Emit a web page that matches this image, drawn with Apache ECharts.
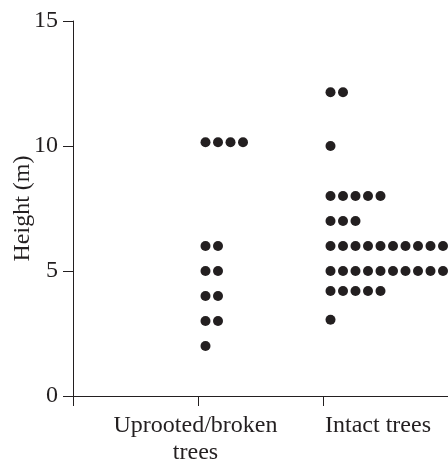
<!DOCTYPE html>
<html><head><meta charset="utf-8">
<script src="https://cdn.jsdelivr.net/npm/echarts@6/dist/echarts.min.js"></script>
<style>html,body{margin:0;padding:0;background:#fff}#c{width:448px;height:462px}</style>
</head><body><div id="c"></div>
<script>
const categories = ['Uprooted/broken\ntrees', 'Intact trees'];
const uprootedHeights = [10.15,10.15,10.15,10.15, 6,6, 5,5, 4,4, 3,3, 2];
const intactHeights = [12.15,12.15, 10, 8,8,8,8,8, 7,7,7,
  6,6,6,6,6,6,6,6,6,6,
  5,5,5,5,5,5,5,5,5,5,
  4.2,4.2,4.2,4.2,4.2, 3.05];
const yTicks = [0, 5, 10, 15];

const INK = '#231f20';
const FONT = '"Liberation Serif", "Times New Roman", serif';
const FS = 24;

// dot-plot layout: dots sharing a height are stacked sideways to the right of the category tick
function layout(heights, catPos) {
  const seen = {};
  return heights.map(h => {
    const k = seen[h] || 0;
    seen[h] = k + 1;
    return [catPos + 0.06 + k * 0.1, h];
  });
}

const chart = echarts.init(document.getElementById('c'), null, {renderer: 'canvas'});
chart.setOption({
  animation: false,
  grid: {left: 73, right: 0, top: 21, bottom: 66, containLabel: false, outerBoundsMode: 'none'},
  xAxis: {
    type: 'value', min: 0, max: 3, interval: 1,
    splitLine: {show: false},
    axisLine: {show: true, lineStyle: {color: INK, width: 1}},
    axisTick: {show: true, length: 10, lineStyle: {color: INK, width: 1}},
    axisLabel: {
      margin: 16,
      color: INK, fontFamily: FONT, fontSize: FS, lineHeight: 27,
      showMinLabel: true, showMaxLabel: true, hideOverlap: false,
      formatter: v => {
        if (v === 1) return categories[0].split('\n').map(s => '{a|' + s + '}').join('\n');
        if (v === 2) return '{b|' + categories[1] + '}';
        return '';
      },
      rich: {
        a: {color: INK, fontFamily: FONT, fontSize: FS, lineHeight: 27, padding: [0, 5, 0, 0]},
        b: {color: INK, fontFamily: FONT, fontSize: FS, lineHeight: 27, padding: [0, 0, 0, 110]}
      }
    }
  },
  yAxis: {
    type: 'value', min: yTicks[0], max: yTicks[yTicks.length - 1], interval: yTicks[1] - yTicks[0],
    name: 'Height (m)', nameLocation: 'middle', nameGap: 38, nameMoveOverlap: false,
    nameTextStyle: {color: INK, fontFamily: FONT, fontSize: FS},
    splitLine: {show: false},
    axisLine: {show: true, lineStyle: {color: INK, width: 1}},
    axisTick: {show: true, length: 10, lineStyle: {color: INK, width: 1}},
    axisLabel: {margin: 15, color: INK, fontFamily: FONT, fontSize: FS}
  },
  series: [
    {type: 'scatter', name: categories[0], data: layout(uprootedHeights, 1), symbol: 'circle', symbolSize: 10,
     itemStyle: {color: INK, opacity: 1}, clip: false},
    {type: 'scatter', name: categories[1], data: layout(intactHeights, 2), symbol: 'circle', symbolSize: 10,
     itemStyle: {color: INK, opacity: 1}, clip: false}
  ]
});
</script></body></html>
